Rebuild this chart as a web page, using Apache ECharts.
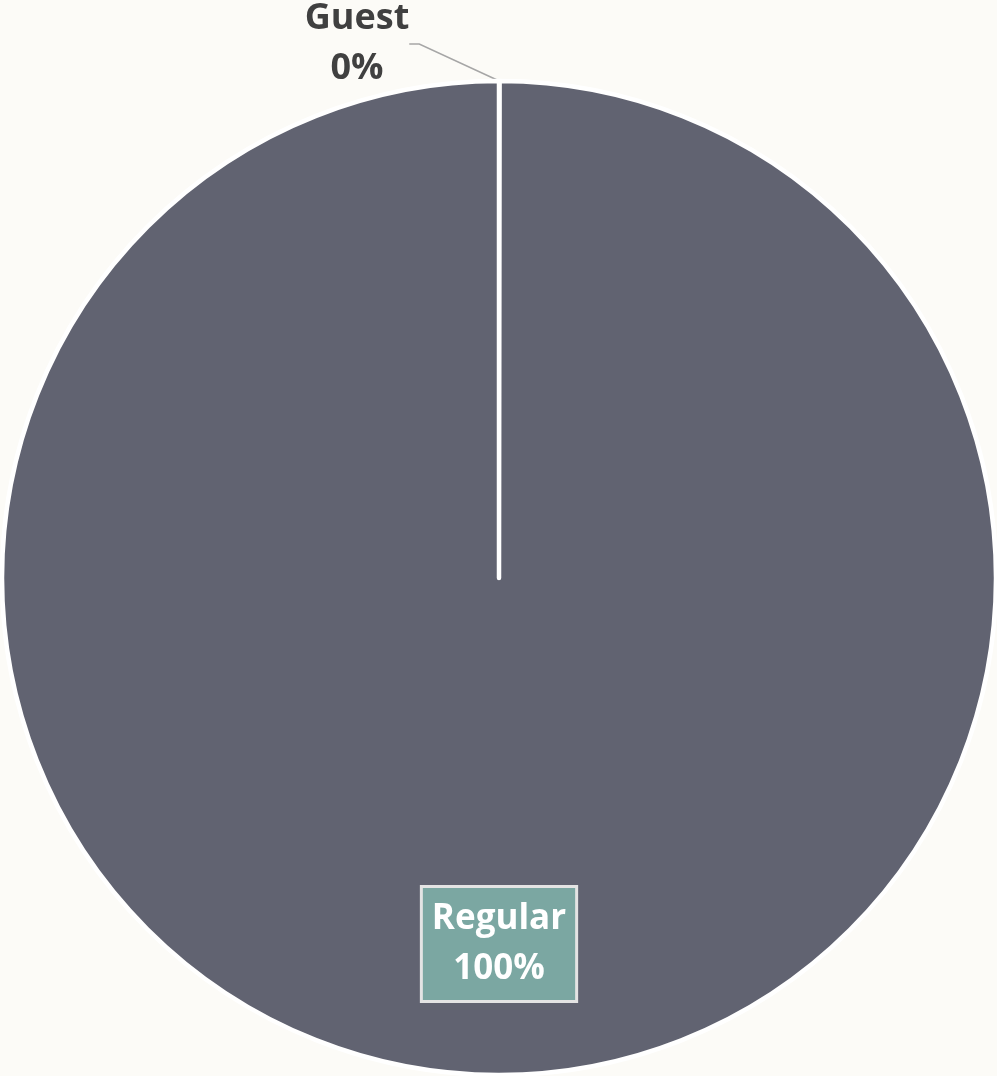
<!DOCTYPE html>
<html><head><meta charset="utf-8">
<script src="https://cdn.jsdelivr.net/npm/echarts@6/dist/echarts.min.js"></script>
<style>html,body{margin:0;padding:0;background:#FCFBF7;}#c{width:997px;height:1076px;}</style>
</head><body><div id="c"></div>
<script>
const categories = ['Guest', 'Regular'];
const values = [0.02, 99.98];
const colors = ['#616371', '#616371'];

const chart = echarts.init(document.getElementById('c'));
const data = categories.map((n, i) => {
  const d = { name: n, value: values[i], itemStyle: { color: colors[i] } };
  if (n === 'Guest') {
    d.label = { position: 'outside', color: '#404040', fontSize: 36, lineHeight: 50 };
    d.labelLine = { show: true, length: 10, length2: 10, lineStyle: { color: '#A6A6A6', width: 1.5 } };
  } else {
    d.label = { position: 'inside', color: '#FFFFFF', fontSize: 35, lineHeight: 50,
      backgroundColor: '#7BA7A2', borderColor: '#E4E4E4', borderWidth: 3, padding: [6, 9] };
    d.labelLine = { show: false };
  }
  return d;
});
chart.setOption({
  backgroundColor: '#FCFBF7',
  animation: false,
  series: [{
    type: 'pie',
    center: [499, 578],
    radius: [0, 497],
    startAngle: 90,
    clockwise: true,
    avoidLabelOverlap: false,
    itemStyle: { borderColor: '#FFFFFF', borderWidth: 4.5 },
    label: {
      show: true,
      fontFamily: 'Open Sans',
      fontWeight: 'bold',
      formatter: p => p.name + '\n' + Math.round(p.percent) + '%'
    },
    labelLayout: p => p.dataIndex === 0
      ? { x: 357, y: 44, align: 'center', verticalAlign: 'middle' }
      : { x: 499, y: 944, align: 'center', verticalAlign: 'middle' },
    emphasis: { disabled: true },
    data: data
  }]
});
</script></body></html>
